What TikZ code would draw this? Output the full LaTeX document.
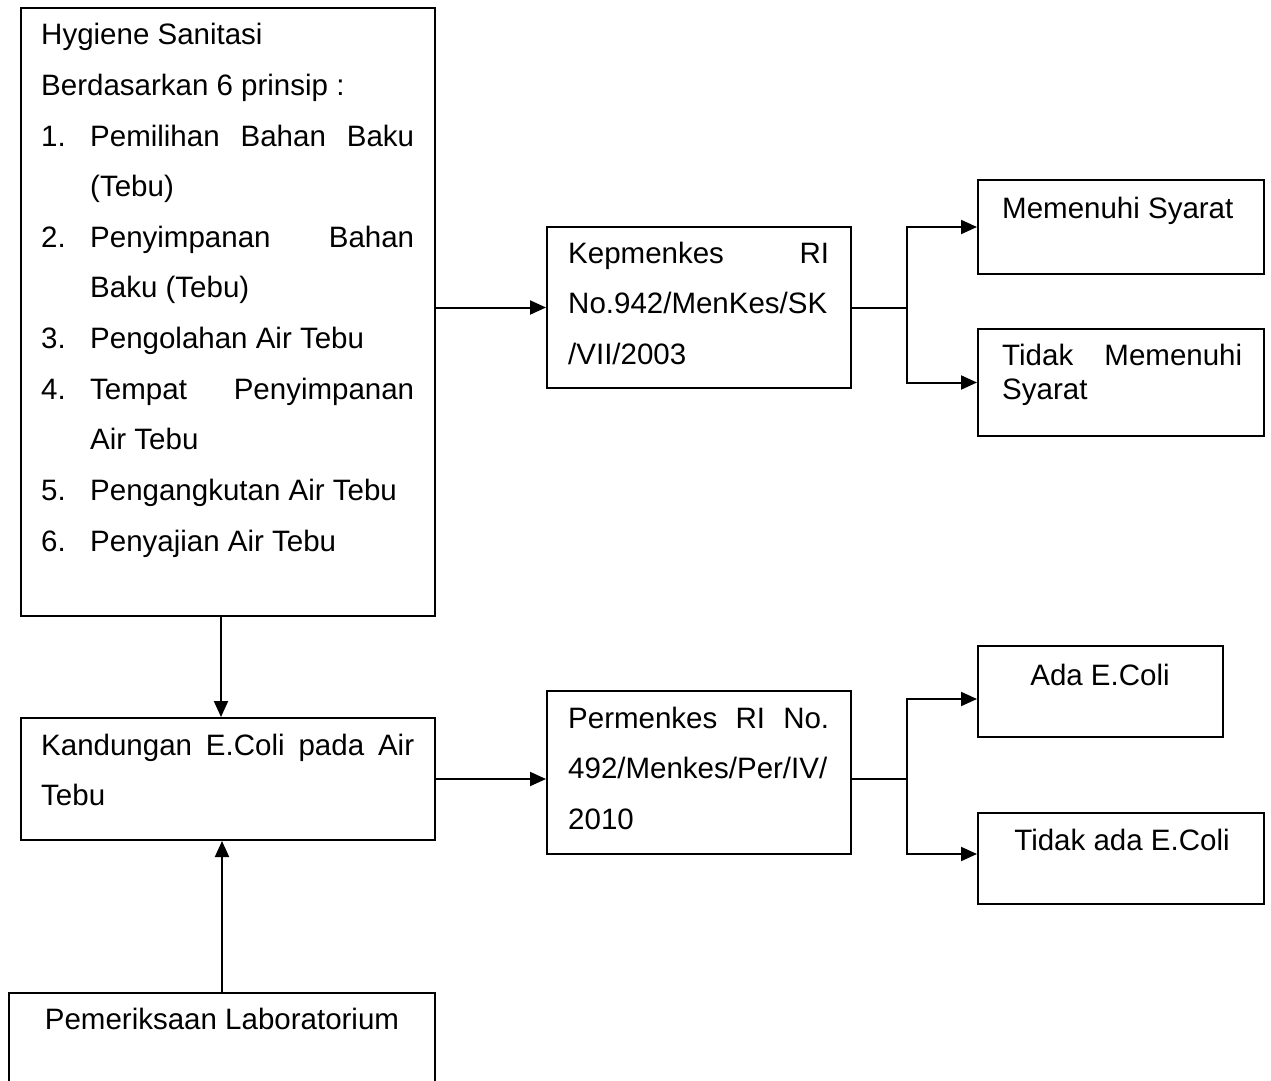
\documentclass[tikz,border=0pt]{standalone}
\usepackage{fontspec}
\setmainfont{Liberation Sans}
\usetikzlibrary{arrows.meta}
\newcommand{\butir}[2]{\par\hangindent=49pt\hangafter=1\noindent\makebox[49pt][l]{#1}#2\par}
\begin{document}
\begin{tikzpicture}[x=1pt,y=-1pt,
  kotak/.style={draw,line width=2pt,anchor=north west,inner sep=0pt},
  teks/.style={inner sep=0pt,anchor=base west,font=\fontsize{29.5}{50.6}\selectfont},
  panah/.style={line width=2pt,-{Triangle[length=16pt,width=14pt]}}]
\clip (0,0) rectangle (1271,1081);
\fill[white] (0,0) rectangle (1271,1081);
\node[kotak,minimum width=414pt,minimum height=608pt] (hyg) at (20,7) {};
\node[kotak,minimum width=304pt,minimum height=161pt] (kep) at (546,226) {};
\node[kotak,minimum width=286pt,minimum height=94pt] (mem) at (977,179) {};
\node[kotak,minimum width=286pt,minimum height=107pt] (tms) at (977,328) {};
\node[kotak,minimum width=414pt,minimum height=122pt] (kan) at (20,717) {};
\node[kotak,minimum width=304pt,minimum height=163pt] (per) at (546,690) {};
\node[kotak,minimum width=245pt,minimum height=91pt] (ada) at (977,645) {};
\node[kotak,minimum width=286pt,minimum height=91pt] (tad) at (977,812) {};
\node[kotak,minimum width=426pt,minimum height=130pt] (lab) at (8,992) {};
\node[teks] (hyg-t) at (41,45) {\parbox[t]{373pt}{\tolerance=10000\hyphenpenalty=10000
Hygiene Sanitasi\par
Berdasarkan 6 prinsip :\par
\butir{1.}{Pemilihan Bahan Baku\linebreak (Tebu)}
\butir{2.}{Penyimpanan Bahan\linebreak Baku (Tebu)}
\butir{3.}{Pengolahan Air Tebu}
\butir{4.}{Tempat Penyimpanan\linebreak Air Tebu}
\butir{5.}{Pengangkutan Air Tebu}
\butir{6.}{Penyajian Air Tebu}}};
\node[teks] (kep-t) at (568,263) {\parbox[t]{261pt}{\tolerance=10000\hyphenpenalty=10000
Kepmenkes RI\linebreak No.942/MenKes/SK\linebreak /VII/2003}};
\node[teks] (mem-t) at (1002,218) {Memenuhi Syarat};
\node[teks,font=\fontsize{29.5}{34}\selectfont] (tms-t) at (1002,365) {\parbox[t]{240pt}{\tolerance=10000\hyphenpenalty=10000
Tidak Memenuhi\linebreak Syarat}};
\node[teks] (kan-t) at (41,755) {\parbox[t]{373pt}{\tolerance=10000\hyphenpenalty=10000
Kandungan E.Coli pada Air\linebreak Tebu}};
\node[teks] (per-t) at (568,728) {\parbox[t]{261pt}{\tolerance=10000\hyphenpenalty=10000
Permenkes RI No.\linebreak 492/Menkes/Per/IV/\linebreak 2010}};
\node[teks,anchor=base] (ada-t) at (1100,685) {Ada E.Coli};
\node[teks,anchor=base] (tad-t) at (1122,850) {Tidak ada E.Coli};
\node[teks,anchor=base] (lab-t) at (222,1029) {Pemeriksaan Laboratorium};
\draw[panah] (kep.west -| hyg.east) -- (kep.west);
\draw[line width=2pt] (kep.east) -- ++(55,0) coordinate (cabA);
\draw[panah] (cabA) |- (mem.west);
\draw[panah] (cabA) |- (tms.west);
\draw[panah] ([xshift=-7pt]hyg.south) -- ([xshift=-7pt]kan.north);
\draw[panah] (kan.east) -- (kan.east -| per.west);
\draw[line width=2pt] (kan.east -| per.east) -- ++(55,0) coordinate (cabB);
\draw[panah] (cabB) |- ([yshift=-7.5pt]ada.west);
\draw[panah] (cabB) |- ([yshift=4.5pt]tad.west);
\draw[panah] (lab.north) -- (lab.north |- kan.south);
\end{tikzpicture}
\end{document}
